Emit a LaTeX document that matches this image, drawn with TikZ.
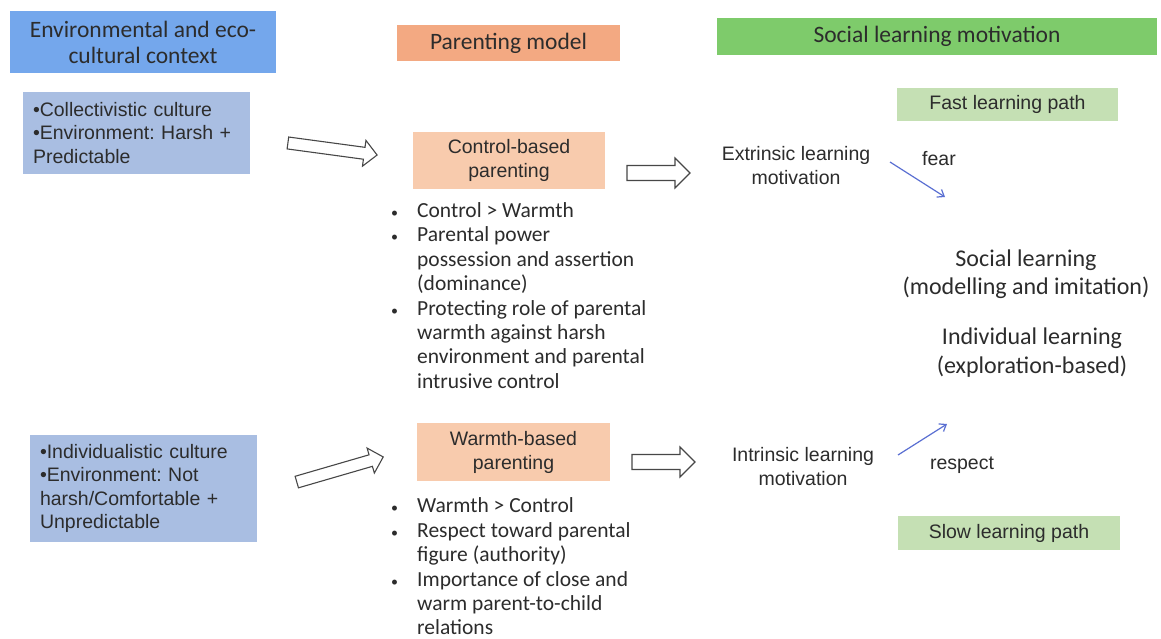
\documentclass[tikz,border=0pt]{standalone}
\usepackage{fontspec}
\setmainfont{Liberation Sans}
\newfontfamily\carl{Carlito}
\usetikzlibrary{arrows.meta}
\definecolor{envblue}{HTML}{74A7EC}
\definecolor{ctxblue}{HTML}{A9BEE2}
\definecolor{parhead}{HTML}{F3A982}
\definecolor{parbox}{HTML}{F8CBAD}
\definecolor{slmhead}{HTML}{7ECB6B}
\definecolor{pathbox}{HTML}{C5E0B4}
\definecolor{txt}{HTML}{2C2C2C}
\definecolor{thinblue}{HTML}{5A6FD2}
\newcommand\lbul{\makebox[28pt][l]{\hspace{2pt}{\fontsize{14}{14}\selectfont •}}}
\newcommand\lind{\hspace*{28pt}}
\newcommand\blockarrow[7]{%
  \begin{scope}[shift={(#2,#3)},rotate=#4]
    \coordinate (#1-tail) at ({-#5/2},0);
    \coordinate (#1-tip) at ({#5/2},0);
    \draw[barrow] ({-#5/2},{-#6}) -- ({#5/2-#7},{-#6}) -- ({#5/2-#7},{-#7}) -- ({#5/2},0)
      -- ({#5/2-#7},{#7}) -- ({#5/2-#7},{#6}) -- ({-#5/2},{#6}) -- cycle;
  \end{scope}}
\frenchspacing
\begin{document}
\begin{tikzpicture}[x=1pt,y=-1pt,
  every node/.style={text=txt},
  hdr/.style={inner sep=0pt, align=center, font=\carl\fontsize{23.5}{26}\selectfont},
  plain/.style={inner sep=0pt, align=center, font=\fontsize{19.5}{24}\selectfont},
  ctx/.style={fill=ctxblue, align=left, inner xsep=10pt, inner ysep=0pt, text width=207pt,
              font=\fontsize{19.5}{23.5}\selectfont},
  lst/.style={anchor=west, inner sep=0pt, align=left, font=\carl\fontsize{21.5}{24.4}\selectfont},
  big/.style={inner sep=0pt, align=center, font=\carl\fontsize{24}{28.5}\selectfont},
  barrow/.style={draw=black!72, fill=white, line width=1.1pt, line join=miter},
  bluearrow/.style={draw=thinblue, line width=1.2pt, -{Straight Barb[length=6pt,width=9pt]}}]
\fill[white] (0,0) rectangle (1161,639);
\useasboundingbox (0,0) rectangle (1161,639);

% headers
\node[hdr, fill=envblue, minimum width=266pt, minimum height=62pt] (env) at (143,42)
  {Environmental and eco-\\cultural context};
\node[hdr, fill=parhead, minimum width=223pt, minimum height=36pt] (parh) at (508.5,43)
  {Parenting model};
\node[hdr, fill=slmhead, minimum width=440pt, minimum height=37pt] (slm) at (937,36.5)
  {Social learning motivation};

% context boxes
\node[ctx, minimum height=82pt] (coll) at (136.5,133)
  {•Collectivistic culture\\•Environment: Harsh +\\Predictable};
\node[ctx, minimum height=107pt] (indiv) at (143.5,488.5)
  {•Individualistic culture\\•Environment: Not\\harsh/Comfortable +\\Unpredictable};

% parenting boxes
\node[plain, fill=parbox, minimum width=192pt, minimum height=57pt] (ctrl) at (509,160.5)
  {Control-based\\parenting};
\node[plain, fill=parbox, minimum width=193pt, minimum height=58pt] (warm) at (513.5,452)
  {Warmth-based\\parenting};

% bullet lists
\node[lst] (clist) at (389,298)
  {\strut\lbul Control > Warmth\\
   \lbul Parental power\\
   \lind possession and assertion\\
   \lind (dominance)\\
   \lbul Protecting role of parental\\
   \lind warmth against harsh\\
   \lind environment and parental\\
   \lind intrusive control\strut};
\node[lst] (wlist) at (389,569)
  {\strut\lbul Warmth > Control\\
   \lbul Respect toward parental\\
   \lind figure (authority)\\
   \lbul Importance of close and\\
   \lind warm parent-to-child\\
   \lind relations\strut};

% motivations
\node[plain] (ext) at (796,165.5) {Extrinsic learning\\motivation};
\node[plain] (intr) at (803,466.5) {Intrinsic learning\\motivation};

% learning paths
\node[plain, fill=pathbox, minimum width=221pt, minimum height=33pt] (fast) at (1007.5,104.5)
  {Fast learning path};
\node[plain, fill=pathbox, minimum width=222pt, minimum height=34pt] (slow) at (1009,533)
  {Slow learning path};

\node[big] (soc) at (1026,274) {Social learning\\(modelling and imitation)};
\node[big] (ind) at (1032,352.5) {Individual learning\\(exploration-based)};

\node[plain] (fear) at (939,159) {fear};
\node[plain] (resp) at (962,465) {respect};

% block arrows
\blockarrow{a1}{332.5}{149}{-7.7}{90}{6}{13}
\blockarrow{a2}{658.5}{173}{0}{63}{7.5}{15}
\blockarrow{a3}{663.5}{462}{0}{63}{7.5}{15}
\blockarrow{a4}{340}{469.5}{16.2}{90}{6}{13}

% thin blue arrows
\coordinate (f1) at (890,162);
\coordinate (f2) at (945,197);
\draw[bluearrow] (f1) -- (f2);
\coordinate (r1) at (898,455);
\coordinate (r2) at (947,424);
\draw[bluearrow] (r1) -- (r2);
\end{tikzpicture}
\end{document}
